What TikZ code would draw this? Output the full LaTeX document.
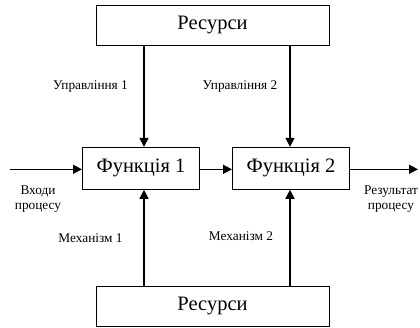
\documentclass[tikz,border=0pt]{standalone}
\usepackage{fontspec}
\setmainfont{Liberation Serif}
\usetikzlibrary{arrows.meta}
\begin{document}
\begin{tikzpicture}[x=1pt,y=-1pt,
  box/.style={draw,line width=1pt,inner sep=0pt,fill=white,font=\fontsize{20.5}{22}\selectfont},
  lbl/.style={font=\fontsize{13.3}{15}\selectfont,align=center,inner sep=0pt,anchor=base},
  flow/.style={line width=1.5pt,-{Triangle[length=9pt,width=9pt]}}]
\useasboundingbox (0,0) rectangle (420,327);
% resource boxes
\node[box,minimum width=233pt,minimum height=40pt] (top) at (212.5,25) {Ресурси};
\node[box,minimum width=233pt,minimum height=40pt] (bot) at (212.5,306) {Ресурси};
% function boxes
\node[box,minimum width=117pt,minimum height=42pt] (f1) at (141,168.3) {Функція 1};
\node[box,minimum width=117pt,minimum height=42pt] (f2) at (291,168.3) {Функція 2};
% free ends
\coordinate (in) at (10,169.3);
\coordinate (out) at (418,169.3);
% controls
\draw[flow] (top.south -| 144,0) -- (f1.north -| 144,0);
\draw[flow] (top.south -| 290,0) -- (f2.north -| 290,0);
% mechanisms
\draw[flow] (bot.north -| 144,0) -- (f1.south -| 144,0);
\draw[flow] (bot.north -| 290,0) -- (f2.south -| 290,0);
% input, link, output
\draw[flow] (in) -- (in -| f1.west);
\draw[flow] (f1.east |- in) -- (f2.west |- in);
\draw[flow] (f2.east |- in) -- (out);
% labels (two-line ones are placed by the baseline of their last line)
\node[lbl] (c1) at (90.5,89) {Управління 1};
\node[lbl] (c2) at (240,89) {Управління 2};
\node[lbl] (m1) at (90.5,242) {Механізм 1};
\node[lbl] (m2) at (241,240) {Механізм 2};
\node[lbl] (i1) at (38,209) {Входи\\процесу};
\node[lbl] (o1) at (391,209) {Результат\\процесу};
\end{tikzpicture}
\end{document}
